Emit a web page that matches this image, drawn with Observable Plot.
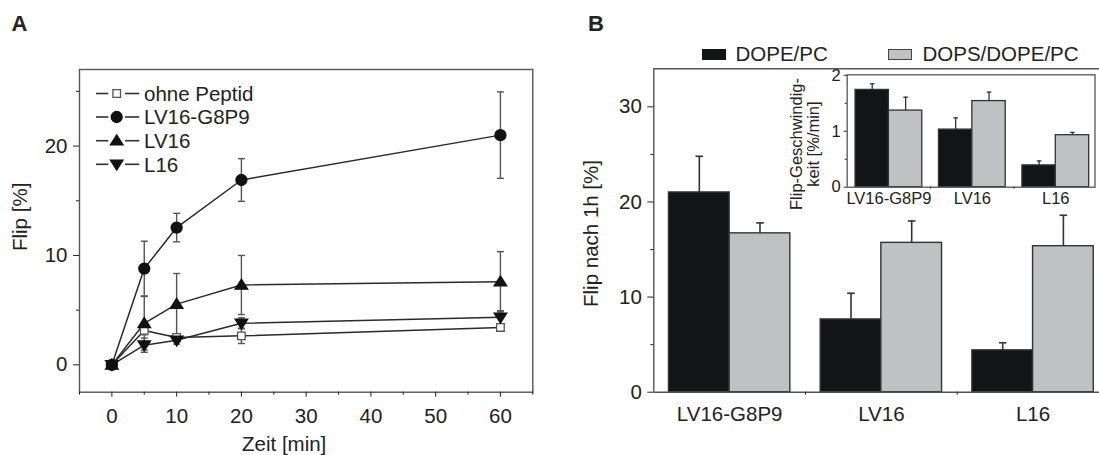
<!DOCTYPE html>
<html><head><meta charset="utf-8">
<script src="https://cdn.jsdelivr.net/npm/d3@7"></script>
<script src="https://cdn.jsdelivr.net/npm/@observablehq/plot@0.6"></script>
<style>
html,body{margin:0;padding:0;background:#fff;}
#wrap{position:relative;width:1099px;height:455px;overflow:hidden;font-family:"Liberation Sans",Arial,sans-serif;color:#222;}
.abs{position:absolute;}
.letter{font-weight:bold;font-size:22px;line-height:22px;}
.leg{font-size:20.5px;line-height:20px;white-space:nowrap;}
</style></head><body><div id="wrap"></div>
<script>
// ---------- Panel A data ----------
const times = [0, 5, 10, 20, 60];
const seriesNames = ["ohne Peptid", "LV16-G8P9", "LV16", "L16"];
const ohneVals = [0, 3.15, 2.5, 2.65, 3.42];
const ohneErr  = [0, 0.4, 0.3, 0.7, 0.3];
const g8p9Vals = [0, 8.8, 12.55, 16.9, 21.0];
const g8p9Err  = [0, 2.5, 1.3, 1.95, 3.95];
const lv16Vals = [0, 3.8, 5.55, 7.3, 7.6];
const lv16Err  = [0, 2.45, 2.8, 2.7, 2.75];
const l16Vals  = [0, 1.8, 2.25, 3.8, 4.35];
const l16Err   = [0, 0.65, 0.35, 0.5, 0.6];
const xTicksA = [0, 10, 20, 30, 40, 50, 60];
const xMinorA = [-5, 5, 15, 25, 35, 45, 55, 65];
const yTicksA = [0, 10, 20];
const yMinorA = [5, 15, 25];

// ---------- Panel B data ----------
const groups = ["LV16-G8P9", "LV16", "L16"];
const membranes = ["DOPE/PC", "DOPS/DOPE/PC"];
const flip1hDopePC    = [21.0, 7.65, 4.4];
const flip1hDopePCErr = [3.8, 2.75, 0.8];
const flip1hDopsPC    = [16.7, 15.7, 15.35];
const flip1hDopsPCErr = [1.1, 2.3, 3.25];
const rateDopePC    = [1.74, 1.03, 0.39];
const rateDopePCErr = [0.11, 0.21, 0.08];
const rateDopsPC    = [1.37, 1.54, 0.93];
const rateDopsPCErr = [0.24, 0.16, 0.05];
const yTicksB = [0, 10, 20, 30];
const yMinorB = [5, 15, 25];
const yTicksInset = [0, 1, 2];
const yMinorInset = [0.5, 1.5];

const FONT = '"Liberation Sans", Arial, sans-serif';
const BLACK = "#131416", GRAY = "#c0c1c4";

// custom symbols
const cap = w => ({draw(ctx){ ctx.moveTo(-w, 0); ctx.lineTo(w, 0); }});
const triUp = {draw(ctx){ ctx.moveTo(0, -5.8); ctx.lineTo(6.3, 4.2); ctx.lineTo(-6.3, 4.2); ctx.closePath(); }};
const triDown = {draw(ctx){ ctx.moveTo(0, 5.8); ctx.lineTo(6.3, -4.2); ctx.lineTo(-6.3, -4.2); ctx.closePath(); }};
const sq = {draw(ctx){ ctx.rect(-3.8, -3.8, 7.6, 7.6); }};
const circ = {draw(ctx){ ctx.moveTo(5.5, 0); ctx.arc(0, 0, 5.5, 0, 2 * Math.PI); }};

const seriesA = [
  {name: seriesNames[0], vals: ohneVals, err: ohneErr, symbol: sq, fill: "#fff", stroke: "#555"},
  {name: seriesNames[1], vals: g8p9Vals, err: g8p9Err, symbol: circ, fill: "#111", stroke: "#111"},
  {name: seriesNames[2], vals: lv16Vals, err: lv16Err, symbol: triUp, fill: "#111", stroke: "#111"},
  {name: seriesNames[3], vals: l16Vals, err: l16Err, symbol: triDown, fill: "#111", stroke: "#111"}
];
const rowsA = seriesA.flatMap(s => times.map((t, i) => ({series: s.name, t, v: s.vals[i], e: s.err[i]})));
const errA = rowsA.filter(d => d.e > 0);

const wrap = document.getElementById("wrap");
function place(node, left, top) {
  node.style.position = "absolute"; node.style.left = left + "px"; node.style.top = top + "px";
  wrap.appendChild(node); return node;
}
const svgStyle = `background:transparent;overflow:visible;max-width:none;font-family:${FONT};color:#222;`;
const intFmt = d => String(d);

// ---------- Panel A ----------
const plotA = Plot.plot({
  width: 545, height: 455,
  marginLeft: 79, marginRight: 12.7, marginTop: 69, marginBottom: 63.3,
  style: svgStyle + "font-size:20.5px;",
  x: {domain: [-5, 65], label: null},
  y: {domain: [-2.5, 27], label: null},
  marks: [
    Plot.line(rowsA, {x: "t", y: "v", z: "series", stroke: "#2a2a2a", strokeWidth: 1.5}),
    Plot.ruleX(errA, {x: "t", y1: d => d.v - d.e, y2: d => d.v + d.e, stroke: "#555", strokeWidth: 1.4}),
    Plot.dot(errA, {x: "t", y: d => d.v + d.e, symbol: cap(3.5), stroke: "#555", strokeWidth: 1.4}),
    Plot.dot(errA, {x: "t", y: d => d.v - d.e, symbol: cap(3.5), stroke: "#555", strokeWidth: 1.4}),
    ...seriesA.map(s => Plot.dot(rowsA.filter(d => d.series === s.name),
      {x: "t", y: "v", symbol: s.symbol, fill: s.fill, stroke: s.stroke, strokeWidth: 1.3})),
    Plot.frame({stroke: "#555", strokeWidth: 1.4}),
    Plot.axisX({ticks: xTicksA, tickSize: 5, tickPadding: 11, tickFormat: intFmt, label: null, fontSize: 20.5}),
    Plot.axisX({ticks: xMinorA, tickSize: 3, tickFormat: () => "", label: null}),
    Plot.axisY({ticks: yTicksA, tickSize: 6, tickPadding: 6, tickFormat: intFmt, label: null, fontSize: 20.5}),
    Plot.axisY({ticks: yMinorA, tickSize: 3, tickFormat: () => "", label: null}),
    Plot.text(["Flip [%]"], {frameAnchor: "left", textAnchor: "middle", lineAnchor: "middle", rotate: -90, dx: -59, dy: -14, fontSize: 20.5, fill: "#222"}),
    Plot.text(["Zeit [min]"], {frameAnchor: "bottom", textAnchor: "middle", lineAnchor: "middle", dx: -22, dy: 52, fontSize: 20.5, fill: "#222"})
  ]
});
place(plotA, 0, 0);

// ---------- Panel B main ----------
const rowsB = groups.flatMap((g, i) => [
  {group: g, m: membranes[0], x1: i - 0.4, x2: i, v: flip1hDopePC[i], e: flip1hDopePCErr[i]},
  {group: g, m: membranes[1], x1: i, x2: i + 0.4, v: flip1hDopsPC[i], e: flip1hDopsPCErr[i]}
]);
const plotB = Plot.plot({
  width: 554, height: 455,
  marginLeft: 108.3, marginRight: 0, marginTop: 68.3, marginBottom: 63.3,
  style: svgStyle + "font-size:20.5px;",
  x: {domain: [-0.5, 2.438], label: null},
  y: {domain: [0, 34], label: null},
  color: {domain: membranes, range: [BLACK, GRAY]},
  marks: [
    Plot.rectY(rowsB, {x1: "x1", x2: "x2", y: "v", fill: "m", stroke: "#333", strokeWidth: 1.4}),
    Plot.ruleX(rowsB, {x: d => (d.x1 + d.x2) / 2, y1: "v", y2: d => d.v + d.e, stroke: "#333", strokeWidth: 1.6}),
    Plot.dot(rowsB, {x: d => (d.x1 + d.x2) / 2, y: d => d.v + d.e, symbol: cap(3.8), stroke: "#333", strokeWidth: 1.6}),
    Plot.ruleY([34], {stroke: "#555", strokeWidth: 1.4}),
    Plot.ruleY([0], {stroke: "#555", strokeWidth: 1.4}),
    Plot.ruleX([-0.5], {stroke: "#555", strokeWidth: 1.4}),
    Plot.axisY({ticks: yTicksB, tickSize: 6, tickPadding: 6, tickFormat: intFmt, label: null, fontSize: 20.5}),
    Plot.axisY({ticks: yMinorB, tickSize: 3, tickFormat: () => "", label: null}),
    Plot.axisX({ticks: [0, 1, 2], tickFormat: i => groups[i], tickSize: 0, tickPadding: 14, label: null, fontSize: 20.5}),
    Plot.axisX({ticks: [0.5, 1.5], tickSize: 3, tickFormat: () => "", label: null}),
    Plot.text(["Flip nach 1h [%]"], {frameAnchor: "left", textAnchor: "middle", lineAnchor: "middle", rotate: -90, dx: -62, dy: 3, fontSize: 20.5, fill: "#222"})
  ]
});
place(plotB, 545, 0);

// ---------- Panel B inset ----------
const rowsI = groups.flatMap((g, i) => [
  {group: g, m: membranes[0], x1: i - 0.4, x2: i, v: rateDopePC[i], e: rateDopePCErr[i]},
  {group: g, m: membranes[1], x1: i, x2: i + 0.4, v: rateDopsPC[i], e: rateDopsPCErr[i]}
]);
const plotI = Plot.plot({
  width: 329, height: 160,
  marginLeft: 76.7, marginRight: 4.5, marginTop: 19.3, marginBottom: 28.3,
  style: svgStyle + "font-size:16.5px;",
  x: {domain: [-0.5, 2.47], label: null},
  y: {domain: [0, 2.01], label: null},
  color: {domain: membranes, range: [BLACK, GRAY]},
  marks: [
    Plot.rectY(rowsI, {x1: "x1", x2: "x2", y: "v", fill: "m", stroke: "#333", strokeWidth: 1.3}),
    Plot.ruleX(rowsI, {x: d => (d.x1 + d.x2) / 2, y1: "v", y2: d => d.v + d.e, stroke: "#333", strokeWidth: 1.3}),
    Plot.dot(rowsI, {x: d => (d.x1 + d.x2) / 2, y: d => d.v + d.e, symbol: cap(2.3), stroke: "#333", strokeWidth: 1.3}),
    Plot.frame({stroke: "#555", strokeWidth: 1.3}),
    Plot.axisY({ticks: yTicksInset, tickSize: 3, tickPadding: 3.5, tickFormat: intFmt, label: null, fontSize: 16.5}),
    Plot.axisY({ticks: yMinorInset, tickSize: 2, tickFormat: () => "", label: null}),
    Plot.axisX({ticks: [0, 1, 2], tickFormat: i => groups[i], tickSize: 0, tickPadding: 5, label: null, fontSize: 16.5}),
    Plot.axisX({ticks: [0.5, 1.5], tickSize: 2, tickFormat: () => "", label: null}),
    Plot.text(["Flip-Geschwindig-\nkeit [%/min]"], {frameAnchor: "left", textAnchor: "middle", lineAnchor: "middle", rotate: -90, dx: -42, dy: 13, fontSize: 16.5, lineHeight: 1, fill: "#222"})
  ]
});
place(plotI, 770, 55);

// ---------- Panel A legend ----------
const legA = d3.create("svg").attr("width", 230).attr("height", 100)
  .style("overflow", "visible").style("font-family", FONT);
const rowY = [93.5, 117, 140.7, 164.3];
seriesA.forEach((s, k) => {
  const y = rowY[k] - 80;
  const g = legA.append("g");
  g.append("line").attr("x1", 0).attr("x2", 12.3).attr("y1", y).attr("y2", y).attr("stroke", "#333").attr("stroke-width", 1.6);
  g.append("line").attr("x1", 29).attr("x2", 43.3).attr("y1", y).attr("y2", y).attr("stroke", "#333").attr("stroke-width", 1.6);
  const p = d3.path(); s.symbol.draw(p);
  g.append("path").attr("d", p.toString()).attr("transform", `translate(20.7,${y})`)
    .attr("fill", s.fill).attr("stroke", s.stroke).attr("stroke-width", 1.3);
  g.append("text").attr("x", 48).attr("y", y).attr("dy", "0.36em")
    .attr("font-size", 20.5).attr("fill", "#222").text(s.name);
});
place(legA.node(), 96, 80);

// ---------- Panel B legend ----------
function swatch(left, color, border) {
  const d = document.createElement("div");
  d.style.width = "24px"; d.style.height = "11px"; d.style.background = color;
  d.style.boxSizing = "border-box"; d.style.border = "1.2px solid " + border;
  place(d, left, 48.5);
}
function label(text, left, top, cls) {
  const d = document.createElement("div"); d.className = cls; d.textContent = text;
  place(d, left, top);
}
swatch(702, BLACK, BLACK);
label(membranes[0], 735.5, 43.5, "leg");
swatch(888, GRAY, "#444");
label(membranes[1], 922.5, 43.5, "leg");

// ---------- panel letters ----------
label("A", 11.5, 13, "letter");
label("B", 588, 13, "letter");
</script></body></html>
